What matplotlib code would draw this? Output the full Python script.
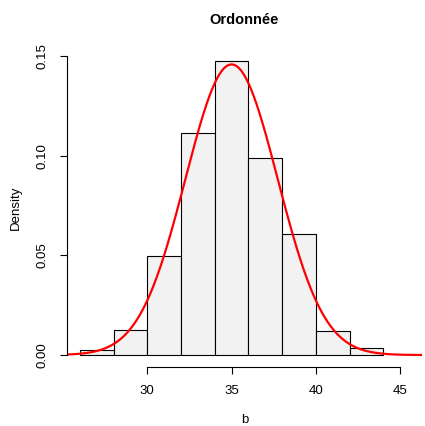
import numpy as np
import matplotlib.pyplot as plt

plt.rcParams['font.family'] = ['Liberation Sans', 'DejaVu Sans']

# histogram of b (density scale, bins of width 2)
breaks = [26, 28, 30, 32, 34, 36, 38, 40, 42, 44]
density = [0.0025, 0.0125, 0.0495, 0.1115, 0.1477, 0.0990, 0.0605, 0.0120, 0.0035]

# fitted normal curve
mu = 35.0
sigma = 2.735

fig = plt.figure(figsize=(4.25, 4.26), dpi=100)
ax = fig.add_axes([0.157, 0.139, 0.836, 0.746])

lefts = breaks[:-1]
widths = np.diff(breaks)
ax.bar(lefts, density, width=widths, align='edge',
       color='#f2f2f2', edgecolor='black', linewidth=0.8)

xmin, xmax = 25.22, 46.3
xs = np.linspace(xmin, xmax, 400)
ys = np.exp(-0.5 * ((xs - mu) / sigma) ** 2) / (sigma * np.sqrt(2 * np.pi))
ax.plot(xs, ys, color='red', linewidth=1.6)

ax.set_xlim(xmin, xmax)
ax.set_ylim(-0.0059, 0.1536)

for s in ['top', 'right']:
    ax.spines[s].set_visible(False)
ax.spines['left'].set_bounds(0, 0.15)
ax.spines['bottom'].set_bounds(30, 45)
for s in ['left', 'bottom']:
    ax.spines[s].set_linewidth(0.8)

ax.set_xticks([30, 35, 40, 45])
ax.set_yticks([0.00, 0.05, 0.10, 0.15])
ax.set_yticklabels(['0.00', '0.05', '0.10', '0.15'], rotation=90, va='center')
ax.tick_params(length=5, width=0.8, pad=8, labelsize=9.5)

ax.set_xlabel('b', fontsize=9.5, labelpad=12)
ax.set_ylabel('Density', fontsize=9.5, labelpad=11)
ax.set_title('Ordonnée', fontsize=10.5, fontweight='bold', pad=18)

fig.savefig('out.png')
